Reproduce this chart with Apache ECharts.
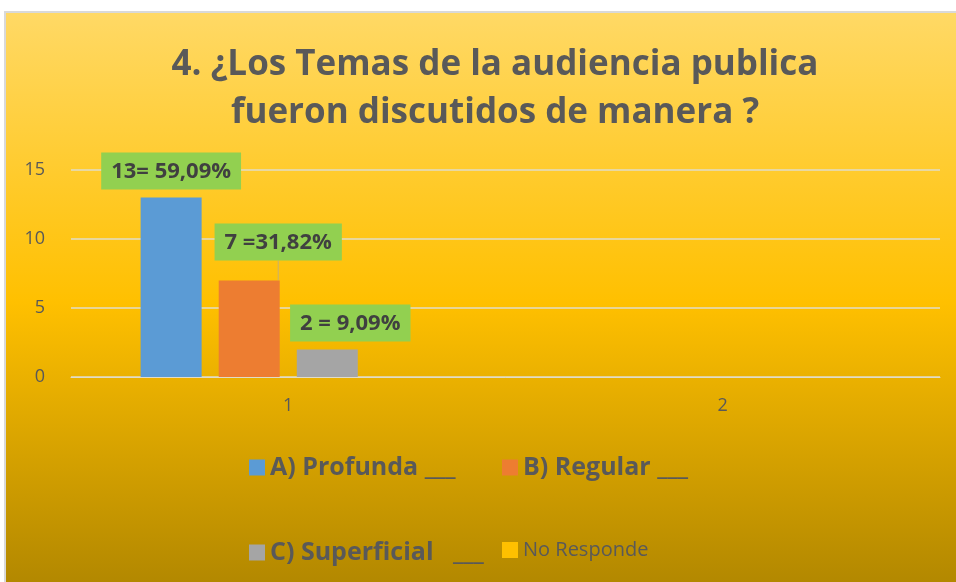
<!DOCTYPE html>
<html>
<head>
<meta charset="utf-8">
<script src="https://cdn.jsdelivr.net/npm/echarts@6/dist/echarts.min.js"></script>
<style>
  html, body { margin: 0; padding: 0; background: #fff; }
  #main { width: 956px; height: 582px; }
</style>
</head>
<body>
<div id="main"></div>
<script>
// datos del grafico
var categorias = ['1', '2'];
var nombres = ['A) Profunda ___', 'B) Regular ___', 'C) Superficial   ___', 'No Responde'];
var profunda = [13, null];
var regular = [7, null];
var superficial = [2, null];
var noResponde = [0, null];
var etiquetas = ['13= 59,09%', '7 =31,82%', '2 = 9,09%', ''];
var colores = ['#5B9BD5', '#ED7D31', '#A5A5A5', '#FFC000'];
var ticksY = [0, 5, 10, 15];

var valores = [profunda, regular, superficial, noResponde];
// desplazamiento de cada etiqueta (en pixeles)
var desplaza = [[0, 0], [29, -12], [23, 0], [0, 0]];

var myChart = echarts.init(document.getElementById('main'));

var series = valores.map(function (vals, i) {
  return {
    name: nombres[i],
    type: 'bar',
    barWidth: 61,
    barGap: '28%',
    itemStyle: { color: colores[i] },
    labelLayout: function (p) {
      return p.dataIndex === 0 ? { dx: desplaza[i][0], dy: desplaza[i][1] } : {};
    },
    labelLine: { show: i === 1, lineStyle: { color: '#C8B070', width: 1 } },
    data: vals.map(function (v, j) {
      var item = { value: v };
      if (j === 0 && etiquetas[i]) {
        item.label = {
          show: true,
          position: 'top',
          distance: 8,
          formatter: etiquetas[i],
          backgroundColor: '#92D050',
          color: '#404040',
          fontFamily: 'Open Sans',
          fontWeight: 'bold',
          fontSize: 22,
          padding: [8, 10, 7, 10]
        };
      }
      return item;
    })
  };
});

var option = {
  backgroundColor: '#ffffff',
  animation: false,
  graphic: [{
    type: 'rect',
    z: -10,
    silent: true,
    shape: { x: 5, y: 12, width: 960, height: 580 },
    style: {
      stroke: '#D9D9D9',
      lineWidth: 2,
      fill: new echarts.graphic.LinearGradient(0, 0, 0, 1, [
        { offset: 0, color: '#FFD966' },
        { offset: 0.5, color: '#FFC000' },
        { offset: 1, color: '#B08600' }
      ])
    }
  }],
  title: {
    text: '4. ¿Los Temas de la audiencia publica\nfueron discutidos de manera ?',
    left: 490,
    textAlign: 'center',
    top: 36,
    textStyle: {
      fontFamily: 'Open Sans',
      fontWeight: 'bold',
      fontSize: 35,
      lineHeight: 48,
      color: '#595959'
    }
  },
  grid: { left: 71, right: 16, top: 170, bottom: 205 },
  legend: [{
    left: 244,
    top: 450,
    orient: 'vertical',
    itemGap: 60,
    itemWidth: 16,
    itemHeight: 16,
    icon: 'rect',
    data: [nombres[0], nombres[2]],
    textStyle: { fontFamily: 'Open Sans', fontWeight: 'bold', fontSize: 25, color: '#595959' }
  }, {
    left: 497,
    top: 450,
    orient: 'vertical',
    itemGap: 60,
    itemWidth: 16,
    itemHeight: 16,
    icon: 'rect',
    data: [
      nombres[1],
      { name: nombres[3], textStyle: { fontWeight: 'normal', fontSize: 20 } }
    ],
    textStyle: { fontFamily: 'Open Sans', fontWeight: 'bold', fontSize: 25, color: '#595959' }
  }],
  xAxis: {
    type: 'category',
    data: categorias,
    axisLine: { show: true, lineStyle: { color: '#E0DCC8' } },
    axisTick: { show: false },
    axisLabel: { color: '#595959', fontFamily: 'Open Sans', fontSize: 18, margin: 20 }
  },
  yAxis: {
    type: 'value',
    min: 0,
    max: ticksY[ticksY.length - 1],
    interval: 5,
    axisLine: { show: false },
    axisTick: { show: false },
    splitLine: { lineStyle: { color: '#E0DCC8', width: 1.5 } },
    axisLabel: { color: '#595959', fontFamily: 'Open Sans', fontSize: 18, margin: 26 }
  },
  series: series
};

myChart.setOption(option);
</script>
</body>
</html>
